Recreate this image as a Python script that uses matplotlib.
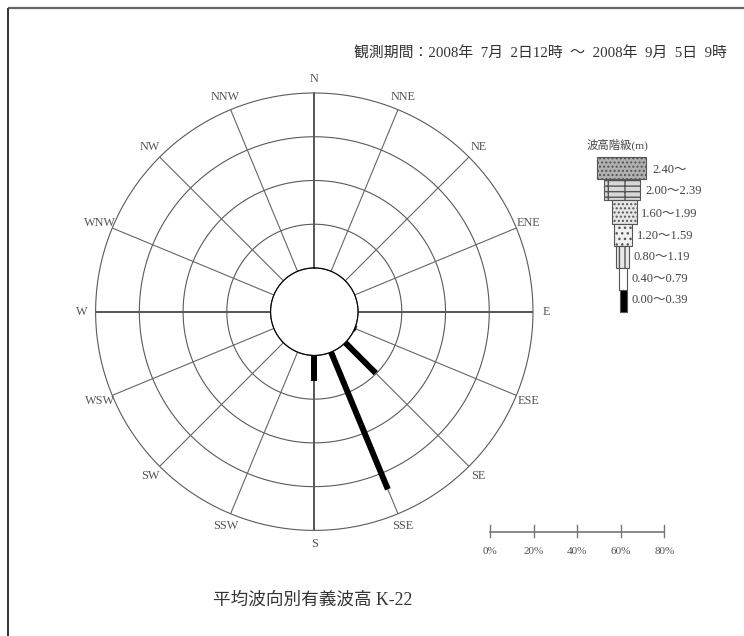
import numpy as np
import matplotlib
matplotlib.use("Agg")
import matplotlib.pyplot as plt
from matplotlib.patches import Rectangle

# ---------------- data ----------------
directions = ['N', 'NNE', 'NE', 'ENE', 'E', 'ESE', 'SE', 'SSE',
              'S', 'SSW', 'SW', 'WSW', 'W', 'WNW', 'NW', 'NNW']
height_classes = ['2.40～', '2.00～2.39', '1.60～1.99', '1.20～1.59',
                  '0.80～1.19', '0.40～0.79', '0.00～0.39']
# frequency (%) per direction, class 0.00~0.39 m (the only non-zero class)
freq_000_039 = [0, 0, 0, 0, 0, 0.7, 19.7, 67.9, 11.7, 0, 0, 0, 0, 0, 0, 0]
ring_values = [0, 20, 40, 60, 80]
scale_ticks = [0, 20, 40, 60, 80]
scale_labels = ['0%', '20%', '40%', '60%', '80%']
period_text = '観測期間：2008年  7月  2日12時  ～  2008年  9月  5日  9時'
title_text = '平均波向別有義波高 K-22'

FONT = ['Liberation Serif', 'Noto Sans CJK JP']
W, H = 744, 636
fig = plt.figure(figsize=(W / 100, H / 100), dpi=100)
fig.patch.set_facecolor('white')

# overlay axes in pixel coordinates
ov = fig.add_axes([0, 0, 1, 1], zorder=0)
ov.set_xlim(0, W)
ov.set_ylim(H, 0)
ov.axis('off')

# border (top & left)
ov.plot([8, W], [8, 8], color='#666666', lw=1.6, solid_capstyle='butt')
ov.plot([8, 8], [8, H], color='#333333', lw=1.4, solid_capstyle='butt')

# ---------------- rose ----------------
cx, cy, R = 314.3, 311.7, 218.7
ax = fig.add_axes([(cx - R) / W, (H - cy - R) / H, 2 * R / W, 2 * R / H],
                  projection='polar', zorder=2)
ax.patch.set_alpha(0)
ax.set_theta_zero_location('N')
ax.set_theta_direction(-1)
ax.set_rorigin(-20)
ax.set_ylim(0, 80)
ax.grid(False)
ax.set_xticks([])
ax.set_yticks([])
ax.spines['polar'].set_visible(False)

theta = np.deg2rad(np.arange(16) * 22.5)
tfull = np.linspace(0, 2 * np.pi, 400)
for rv in ring_values:
    ax.plot(tfull, np.full_like(tfull, rv), color='#5a5a5a', lw=0.8,
            clip_on=False)
for i, t in enumerate(theta):
    cardinal = (i % 4 == 0)
    ax.plot([t, t], [0, 80], color='#555555' if cardinal else '#666666',
            lw=1.4 if cardinal else 0.8, solid_capstyle='butt', clip_on=False)
    ax.text(t, 86.2, directions[i], ha='center', va='center', fontsize=8.8,
            color='#555555', family=FONT, clip_on=False)

for t, v in zip(theta, freq_000_039):
    if v > 0:
        ax.plot([t, t], [0, v], color='black', lw=4.3, solid_capstyle='butt',
                zorder=5)

# ---------------- legend ----------------
ov.text(617, 145, '波高階級(m)', ha='center', va='center', fontsize=8.2,
        color='#444444', family=FONT)
legend_boxes = [  # x0, x1, y0, y1, face, hatch
    (597, 646, 157, 179, '#b0b0b0', '....'),
    (604, 640, 179, 200, '#d8d8d8', '---|'),
    (611.5, 636.5, 200, 224, '#e6e6e6', '....'),
    (613.5, 631.5, 224, 246, '#f0f0f0', '...'),
    (616, 628.5, 246, 268, '#e8e8e8', '|||'),
    (619, 626.5, 268, 290, 'white', ''),
    (620, 626.5, 290, 312, 'black', ''),
]
label_pos = [(652, 170), (645, 191), (641, 214), (637, 236),
             (633, 257), (631, 279), (631, 300)]
for (x0, x1, y0, y1, fc, hatch), lab, (lx, ly) in zip(legend_boxes, height_classes, label_pos):
    ov.add_patch(Rectangle((x0, y0), x1 - x0, y1 - y0, facecolor=fc,
                           edgecolor='#555555', hatch=hatch, lw=0.8))
    ov.text(lx, ly, lab, ha='left', va='center', fontsize=9,
            color='#444444', family=FONT)

# ---------------- scale bar ----------------
sx0, sx1, sy = 490, 664.3, 531.7
px_per = (sx1 - sx0) / 80
ov.plot([sx0, sx1], [sy, sy], color='#777777', lw=1.2)
for tv, tl in zip(scale_ticks, scale_labels):
    x = sx0 + tv * px_per
    ov.plot([x, x], [525, 537], color='#777777', lw=1.0)
    ov.text(x, 551.5, tl, ha='center', va='center', fontsize=8,
            color='#555555', family=FONT)

# ---------------- texts ----------------
ov.text(727, 54, period_text, ha='right', va='center', fontsize=10.7,
        color='#333333', family=FONT)
ov.text(213, 600, title_text, ha='left', va='center', fontsize=12.7,
        color='#333333', family=FONT)

fig.savefig('out.png', dpi=100, facecolor='white')
